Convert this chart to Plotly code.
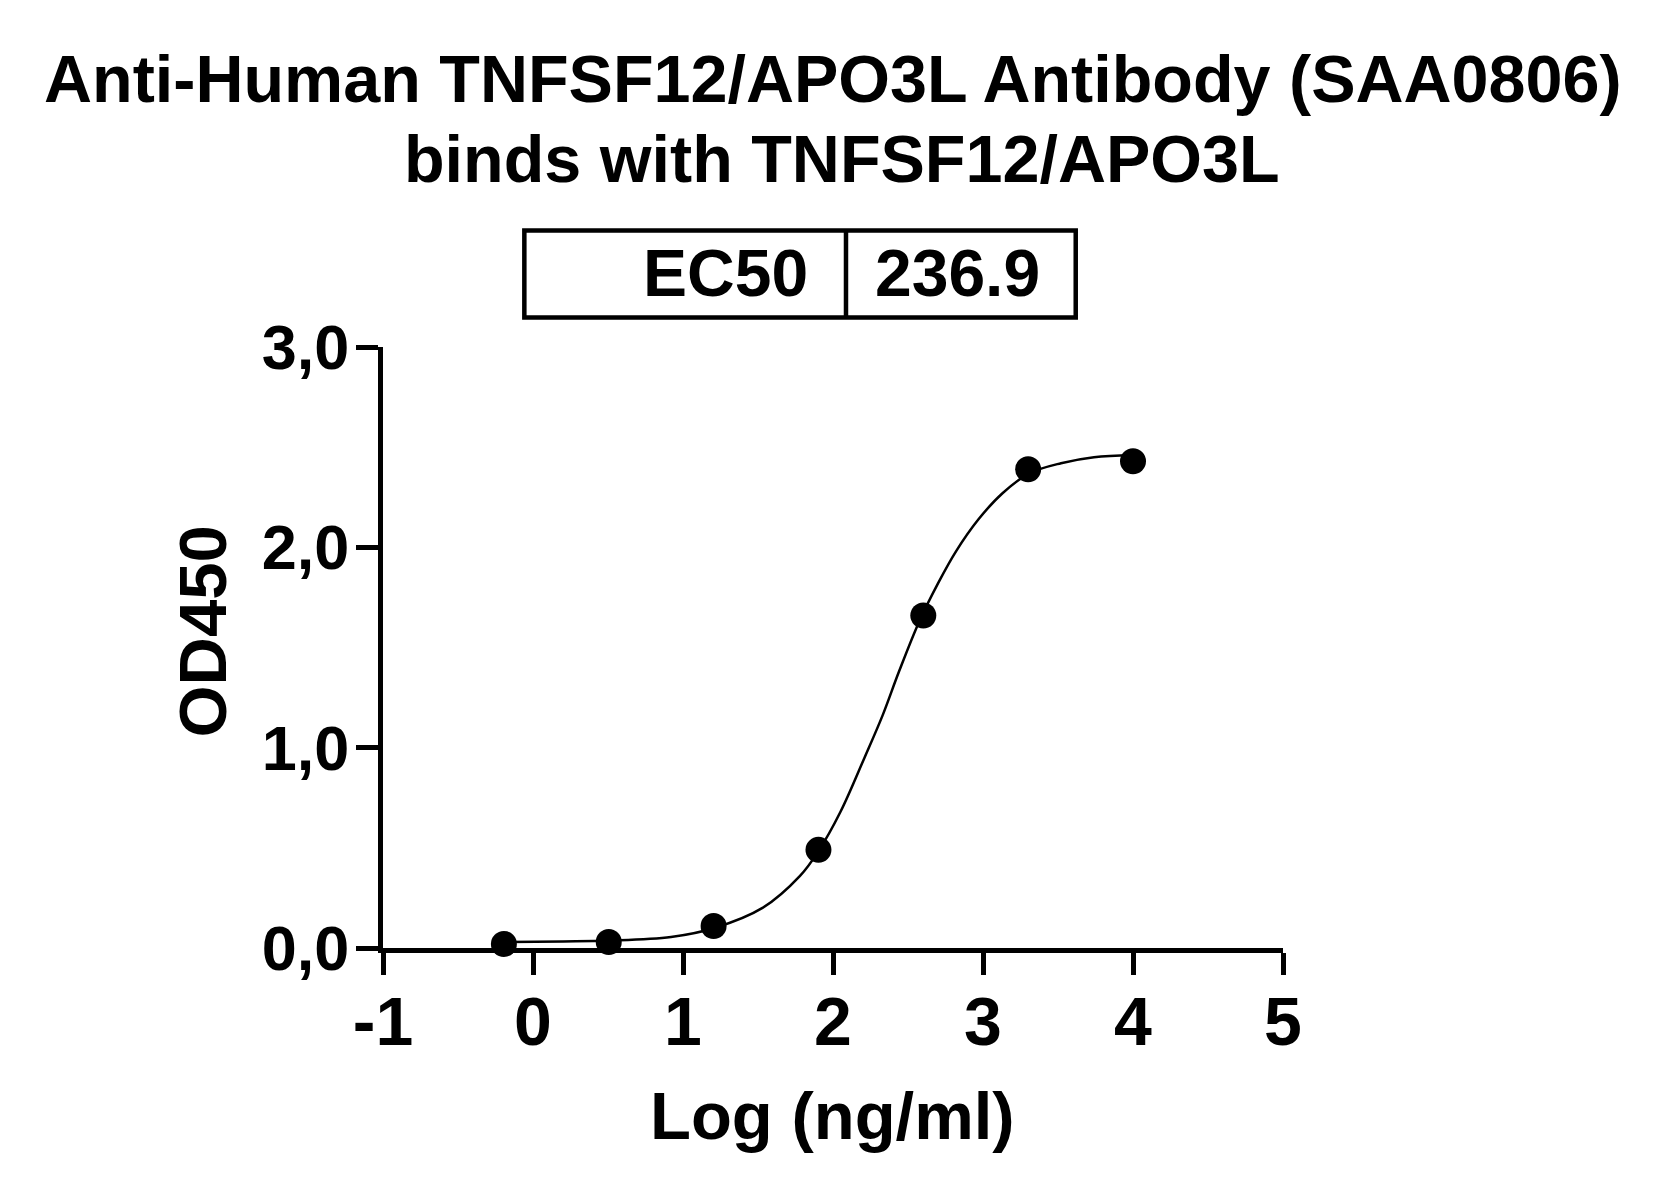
import plotly.graph_objects as go

# Measured points (log10 ng/ml, OD450)
log_conc = [-0.194, 0.505, 1.204, 1.903, 2.602, 3.301, 4.0]
od450 = [0.02, 0.03, 0.11, 0.49, 1.66, 2.39, 2.43]

# Fitted curve
curve_x = [-0.194, 0.2, 0.506, 0.92, 1.21, 1.53, 1.78, 1.90, 2.05, 2.21, 2.33, 2.44,
           2.575, 2.70, 2.82, 2.97, 3.13, 3.31, 3.52, 3.74, 4.0]
curve_y = [0.03, 0.033, 0.037, 0.055, 0.10, 0.20, 0.36, 0.48, 0.68, 0.95, 1.16, 1.38,
           1.63, 1.82, 1.98, 2.14, 2.27, 2.37, 2.42, 2.45, 2.46]

y_tickvals = [0, 1, 2, 3]
y_ticktext = ["0,0", "1,0", "2,0", "3,0"]
x_tickvals = [-1, 0, 1, 2, 3, 4, 5]
x_ticktext = ["-1", "0", "1", "2", "3", "4", "5"]

title_line1 = "Anti-Human TNFSF12/APO3L Antibody (SAA0806)"
title_line2 = "binds with TNFSF12/APO3L"
ec50_label = "EC50"
ec50_value = "236.9"
x_title = "Log (ng/ml)"
y_title = "OD450"

FONT = "Liberation Sans, Arial, sans-serif"
OFF = 8  # page body margin
FW, FH = 1650, 1181
# plot area in screen pixels
PX0, PX1 = 382.5, 1283.5
PY0, PY1 = 347.4, 947.75
pw = PX1 - PX0
ph = PY1 - PY0
L = PX0 - OFF
R = OFF + FW - PX1
T = PY0 - OFF
B = OFF + FH - PY1


def px_x(sx):
    return (sx - PX0) / pw


def px_y(sy):
    return (PY1 - sy) / ph


fig = go.Figure()
fig.add_trace(go.Scatter(x=curve_x, y=curve_y, mode="lines",
                         line=dict(color="black", width=2.5, shape="spline", smoothing=1.0),
                         hoverinfo="skip", cliponaxis=False, showlegend=False))
fig.add_trace(go.Scatter(x=log_conc, y=od450, mode="markers",
                         marker=dict(color="black", size=26),
                         cliponaxis=False, showlegend=False))

axis_common = dict(showline=True, linecolor="black", linewidth=5, ticks="outside",
                   tickcolor="black", tickwidth=5, ticklen=22, showgrid=False,
                   zeroline=False, mirror=False)

fig.update_xaxes(range=[-1, 5], tickvals=x_tickvals, ticktext=x_ticktext,
                 ticklabelstandoff=-12,
                 tickfont=dict(family=FONT, size=68, color="black", weight="bold"),
                 **axis_common)
fig.update_yaxes(range=[0, 3], tickvals=y_tickvals, ticktext=y_ticktext,
                 ticklabelstandoff=-6,
                 tickfont=dict(family=FONT, size=63, color="black", weight="bold"),
                 **axis_common)

annotations = [
    dict(text=title_line1, x=px_x(832.5), y=px_y(80), font=dict(size=66.5)),
    dict(text=title_line2, x=px_x(842), y=px_y(160), font=dict(size=66.5)),
    dict(text=ec50_label, x=px_x(810), y=px_y(273), xanchor="right", font=dict(size=66)),
    dict(text=ec50_value, x=px_x(958), y=px_y(273), font=dict(size=66)),
    dict(text=x_title, x=px_x(832.5), y=px_y(1115), font=dict(size=67)),
    dict(text=y_title, x=px_x(202), y=px_y(632), textangle=-90, font=dict(size=67)),
]
for a in annotations:
    a.setdefault("xanchor", "center")
    a["yanchor"] = "middle"
    a["xref"] = "paper"
    a["yref"] = "paper"
    a["showarrow"] = False
    a["font"].update(family=FONT, color="black", weight="bold")
    fig.add_annotation(**a)

box_line = dict(color="black", width=4.5)
fig.add_shape(type="rect", xref="paper", yref="paper",
              x0=px_x(524), x1=px_x(1076), y0=px_y(318), y1=px_y(231), line=box_line)
fig.add_shape(type="line", xref="paper", yref="paper",
              x0=px_x(846), x1=px_x(846), y0=px_y(318), y1=px_y(231), line=box_line)

fig.update_layout(width=FW, height=FH, margin=dict(l=L, r=R, t=T, b=B, autoexpand=False),
                  paper_bgcolor="white", plot_bgcolor="white")

fig.write_html("out.html")
